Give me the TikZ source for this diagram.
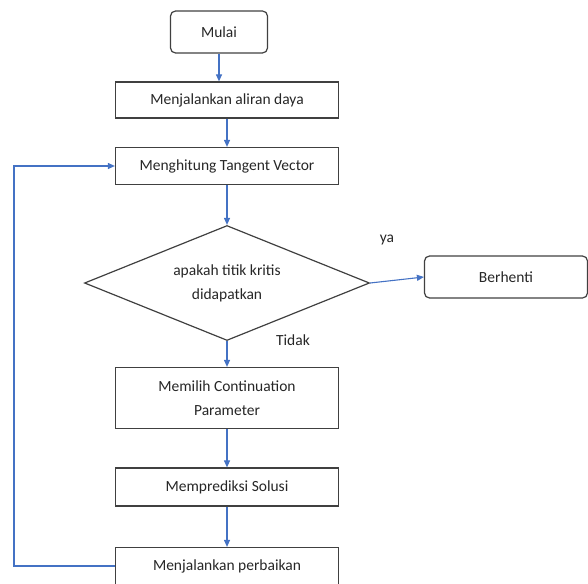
\documentclass[tikz,border=0pt]{standalone}
\usepackage{fontspec}
\setmainfont{Carlito}
\usetikzlibrary{shapes.geometric,arrows.meta}
\definecolor{flowblue}{RGB}{68,114,196}
\begin{document}
\begin{tikzpicture}[x=1pt,y=-1pt,
    font=\fontsize{15.5}{19}\selectfont,
    box/.style={draw=black!75, line width=1.2pt, text=black!85, minimum width=223pt, minimum height=36pt, inner sep=2pt},
    term/.style={box, rounded corners=5pt, minimum height=42pt},
    dec/.style={draw=black!75, line width=1.2pt, text=black!85, diamond, aspect=2.48, inner sep=0pt, minimum width=285pt, minimum height=115pt, align=center},
    flow/.style={draw=flowblue, line width=1.1pt, -{Triangle[length=7pt,width=6pt]}},
    lbl/.style={text=black!85}]
            \useasboundingbox (0,0) rectangle (588,583);
            \clip (0,0) rectangle (588,583);
            \node [term, minimum width=97pt] (start) at (219,32) {Mulai};
            \node [box] (pf) at (227,100) {Menjalankan aliran daya};
            \node [box, minimum height=37pt] (tan) at (227,166) {Menghitung Tangent Vector};
            \node [dec] (crit) at (227,283) {apakah titik kritis\\[5pt]didapatkan};
            \node [term, minimum width=163pt] (stop) at (506,277) {Berhenti};
            \node [box, minimum height=61pt, align=center] (par) at (227,398) {Memilih Continuation\\[5pt]Parameter};
            \node [box, minimum height=38pt] (pred) at (227,487) {Memprediksi Solusi};
            \node [box, minimum height=37pt] (fix) at (227,566) {Menjalankan perbaikan};
            \coordinate (back) at (14,566);
            \draw [flow] (start.south -| 219,0) -- (pf.north -| 219,0);
            \draw [flow] (pf) -- (tan);
            \draw [flow] (tan) -- (crit);
            \draw [flow] (crit.east) -- (stop.west);
            \draw [flow] (crit) -- (par);
            \draw [flow] (par) -- (pred);
            \draw [flow] (pred) -- (fix);
            \draw [flow] (fix.west) -- (back) |- (tan.west);
            \node [lbl] (yes) at (387,240) {ya};
            \node [lbl] (no) at (293,340) {Tidak};
        \end{tikzpicture}
\end{document}
